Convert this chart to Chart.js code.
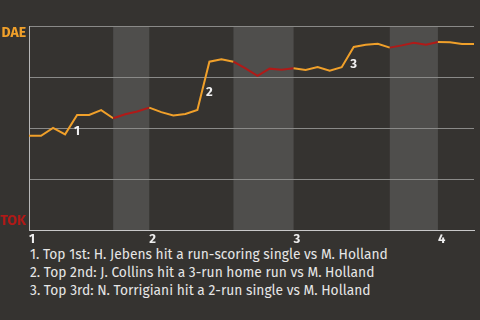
<!DOCTYPE html>
<html><head><meta charset="utf-8">
<script src="https://cdn.jsdelivr.net/npm/chart.js@4"></script>
<style>
html,body{margin:0;padding:0;background:#353330;width:480px;height:320px;overflow:hidden;}
#wrap{position:absolute;left:0;top:0;width:480px;height:246px;}
#notes{position:absolute;left:30px;top:246px;font-family:"Fira Sans","Lato","Noto Sans",sans-serif;font-size:13.8px;color:#e6e6e6;line-height:18px;white-space:nowrap;}
</style></head>
<body>
<div id="wrap"><canvas id="c" width="480" height="246"></canvas></div>
<div id="notes"></div>
<script>
// win probability for DAE (1 = DAE, 0 = TOK), one value per event
const winProb = [0.462,0.462,0.501,0.469,0.564,0.564,0.588,0.548,0.567,0.581,
                 0.600,0.578,0.561,0.569,0.588,0.825,0.837,0.825,0.792,0.756,
                 0.791,0.785,0.793,0.784,0.799,0.781,0.798,0.897,0.908,0.913,
                 0.894,0.905,0.918,0.908,0.922,0.920,0.912,0.912];
const inningStart = [0,10,22,34];
const inningLabels = ['1','2','3','4'];
const bottomStart = [7,17,30];
const bottomEnd = [10,22,34];
const teamLabels = ['TOK','DAE'];
const teamLabelPos = [0.044,0.966];
const annotIdx = [4,15,27];
const annotLabels = ['1','2','3'];
const notes = [
  '1. Top 1st: H. Jebens hit a run-scoring single vs M. Holland',
  '2. Top 2nd: J. Collins hit a 3-run home run vs M. Holland',
  '3. Top 3rd: N. Torrigiani hit a 2-run single vs M. Holland'
];

const ORANGE = '#f0a02a', RED = '#b01a18';
const FONT = '"Fira Sans","Lato","Noto Sans",sans-serif';

document.getElementById('notes').innerHTML = notes.map(t=>'<div>'+t+'</div>').join('');

const isBottom = i => bottomStart.some((s,k)=> i>=s && i<bottomEnd[k]);

const bandPlugin = {
  id:'bands',
  beforeDraw(chart){
    const {ctx, chartArea:a, scales:{x}} = chart;
    ctx.save();
    ctx.fillStyle = '#4f4e4c';
    bottomStart.forEach((s,k)=>{
      const x0 = x.getPixelForValue(s), x1 = x.getPixelForValue(bottomEnd[k]);
      ctx.fillRect(x0, a.top, x1-x0, a.bottom-a.top);
    });
    ctx.restore();
  }
};
const annotPlugin = {
  id:'annots',
  afterDatasetsDraw(chart){
    const {ctx, scales:{x,y}} = chart;
    ctx.save();
    ctx.fillStyle = '#f0f0f0';
    ctx.font = 'bold 13px '+FONT;
    ctx.textAlign = 'center';
    ctx.textBaseline = 'middle';
    annotIdx.forEach((i,k)=>{
      const px = x.getPixelForValue(i-0.5)+6;
      const py = y.getPixelForValue((winProb[i-1]+winProb[i])/2)+7;
      ctx.fillText(annotLabels[k], px, py);
    });
    ctx.restore();
  }
};

new Chart(document.getElementById('c'), {
  type:'line',
  data:{datasets:[{
    data: winProb.map((v,i)=>({x:i,y:v})),
    borderColor: ORANGE,
    borderWidth: 2,
    pointRadius: 0,
    tension: 0,
    segment:{ borderColor: c => isBottom(c.p0DataIndex) ? RED : ORANGE }
  }]},
  options:{
    responsive:false,
    animation:false,
    devicePixelRatio:1,
    layout:{padding:{top:26,right:6,left:0,bottom:0}},
    plugins:{legend:{display:false},tooltip:{enabled:false}},
    scales:{
      x:{
        type:'linear', min:0, max:winProb.length-1,
        afterBuildTicks: s => { s.ticks = inningStart.map(v=>({value:v})); },
        afterFit: s => { s.height = 16; },
        grid:{display:false, drawTicks:false},
        border:{color:'#c8c8c8', width:1},
        ticks:{
          autoSkip:false, maxRotation:0, align:'start', padding:2,
          color:'#eeeeee', font:{family:FONT, size:13, weight:'bold'},
          callback:(v)=>{ const k = inningStart.indexOf(v); return k>=0 ? inningLabels[k] : ''; }
        }
      },
      y:{
        position:'left', min:0, max:1,
        afterFit: s => { s.width = 0; },
        ticks:{display:false, stepSize:0.25},
        grid:{color:'#8a8a88', drawTicks:false, lineWidth:1},
        border:{color:'#b8b8b8', width:1}
      },
      y2:{
        position:'left', min:0, max:1,
        afterBuildTicks: s => { s.ticks = teamLabelPos.map(v=>({value:v})); },
        afterFit: s => { s.width = 29; },
        grid:{display:false, drawTicks:false},
        border:{display:false},
        ticks:{
          autoSkip:false, padding:3,
          font:{family:FONT, size:14, weight:'bold'},
          color: c => c.index===1 ? ORANGE : RED,
          callback:(v,i)=> teamLabels[i]
        }
      }
    }
  },
  plugins:[bandPlugin, annotPlugin]
});
</script>
</body></html>
